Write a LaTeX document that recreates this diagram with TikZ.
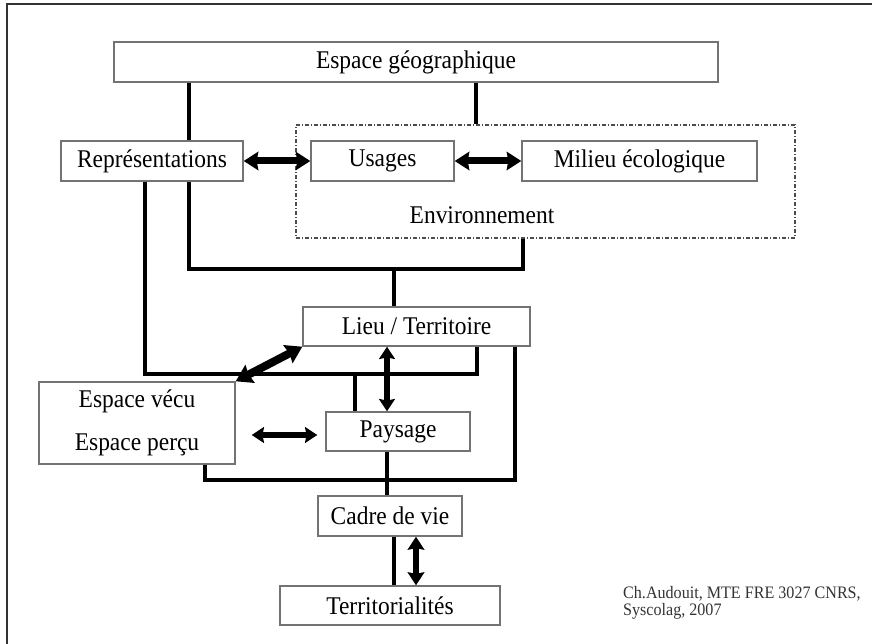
\documentclass[tikz,border=0pt]{standalone}
\usepackage{fontspec}
\setmainfont[FakeStretch=0.92]{Liberation Serif}
\usetikzlibrary{arrows.meta}

\newcommand\boxfont{\fontsize{25.5}{29}\selectfont}
\newcommand\creditfont{\fontsize{17.5}{17}\selectfont}

\begin{document}
\begin{tikzpicture}[x=1pt,y=-1pt,
    box/.style={draw=black!55,line width=1.4pt,inner sep=0pt,font=\boxfont},
    envbox/.style={draw=black!70,line width=1.1pt,dash pattern=on 4pt off 2pt on 1pt off 2pt},
    link/.style={line width=3.3pt,line join=miter,black},
    twoway/.style={line width=#1,
        {Stealth[length=4pt 1.5,width=7pt 1.6,inset=1.5pt]}-{Stealth[length=4pt 1.5,width=7pt 1.6,inset=1.5pt]}},
    twoway/.default=7pt]
    \useasboundingbox (0,0) rectangle (872,644);
    % frame of the slide
    \draw[line width=2.2pt,black!80] (7,644) -- (7,4) -- (872,4);

    % boxes
    \node[box,minimum width=604pt,minimum height=40pt] (eg) at (416,62) {Espace géographique};
    \node[envbox,minimum width=499pt,minimum height=113pt] (env) at (545.5,181.5) {};
    \node[font=\boxfont] (envlab) at (482,215) {Environnement};
    \node[box,minimum width=182pt,minimum height=40pt] (rep) at (152,161) {Représentations};
    \node[box,minimum width=143pt,minimum height=40pt] (use) at (382.5,161) {Usages};
    \node[box,minimum width=235pt,minimum height=40pt] (mil) at (639.5,161) {Milieu écologique};
    \node[box,minimum width=227pt,minimum height=39pt] (lieu) at (416.5,326.5) {Lieu / Territoire};
    \node[box,minimum width=196pt,minimum height=82pt,align=center] (vecu) at (137,423)
        {Espace vécu\\[14pt]Espace perçu};
    \node[box,minimum width=144pt,minimum height=39pt] (pay) at (398,431.5) {Paysage};
    \node[box,minimum width=144pt,minimum height=40pt] (cadre) at (390,516) {Cadre de vie};
    \node[box,minimum width=220pt,minimum height=39pt] (terr) at (390,605.5) {Territorialités};

    % junctions
    \coordinate (ja) at (394,269);
    \coordinate (jb) at (355,374);
    \coordinate (jc) at (387,480);

    % plain links
    \draw[link] (eg.south -| 189,0) -- (rep.north -| 189,0);
    \draw[link] (eg.south -| 476,0) -- (env.north -| 476,0);
    \draw[link] (rep.south -| 189,0) -- (189,269) -- (523,269) -- (env.south -| 523,0);
    \draw[link] (ja) -- (lieu.north -| ja);
    \draw[link] (rep.south -| 145,0) -- (145,374) -- (477,374) -- (lieu.south -| 477,0);
    \draw[link] (jb) -- (pay.north -| jb);
    \draw[link] (vecu.south -| 205,0) -- (205,480) -- (515,480) -- (lieu.south -| 515,0);
    \draw[link] (pay.south -| jc) -- (cadre.north -| jc);
    \draw[link] (cadre.south -| 394,0) -- (terr.north -| 394,0);

    % double arrows
    \draw[twoway] (rep.east) -- (use.west);
    \draw[twoway] (use.east) -- (mil.west);
    \draw[twoway=8pt] (vecu.north east) -- (lieu.south west);
    \draw[twoway=5.5pt] (lieu.south -| 387,0) -- (pay.north -| 387,0);
    \draw[twoway=5.5pt,shorten <=16pt,shorten >=8pt] (vecu.east |- 0,435) -- (pay.west |- 0,435);
    \draw[twoway=6pt] (cadre.south -| 416,0) -- (terr.north -| 416,0);

    % credit
    \node[anchor=base west,inner sep=0pt,align=left,font=\creditfont,text=black!80] (credit) at (623,615)
        {Ch.Audouit, MTE FRE 3027 CNRS,\\Syscolag, 2007};
\end{tikzpicture}
\end{document}
